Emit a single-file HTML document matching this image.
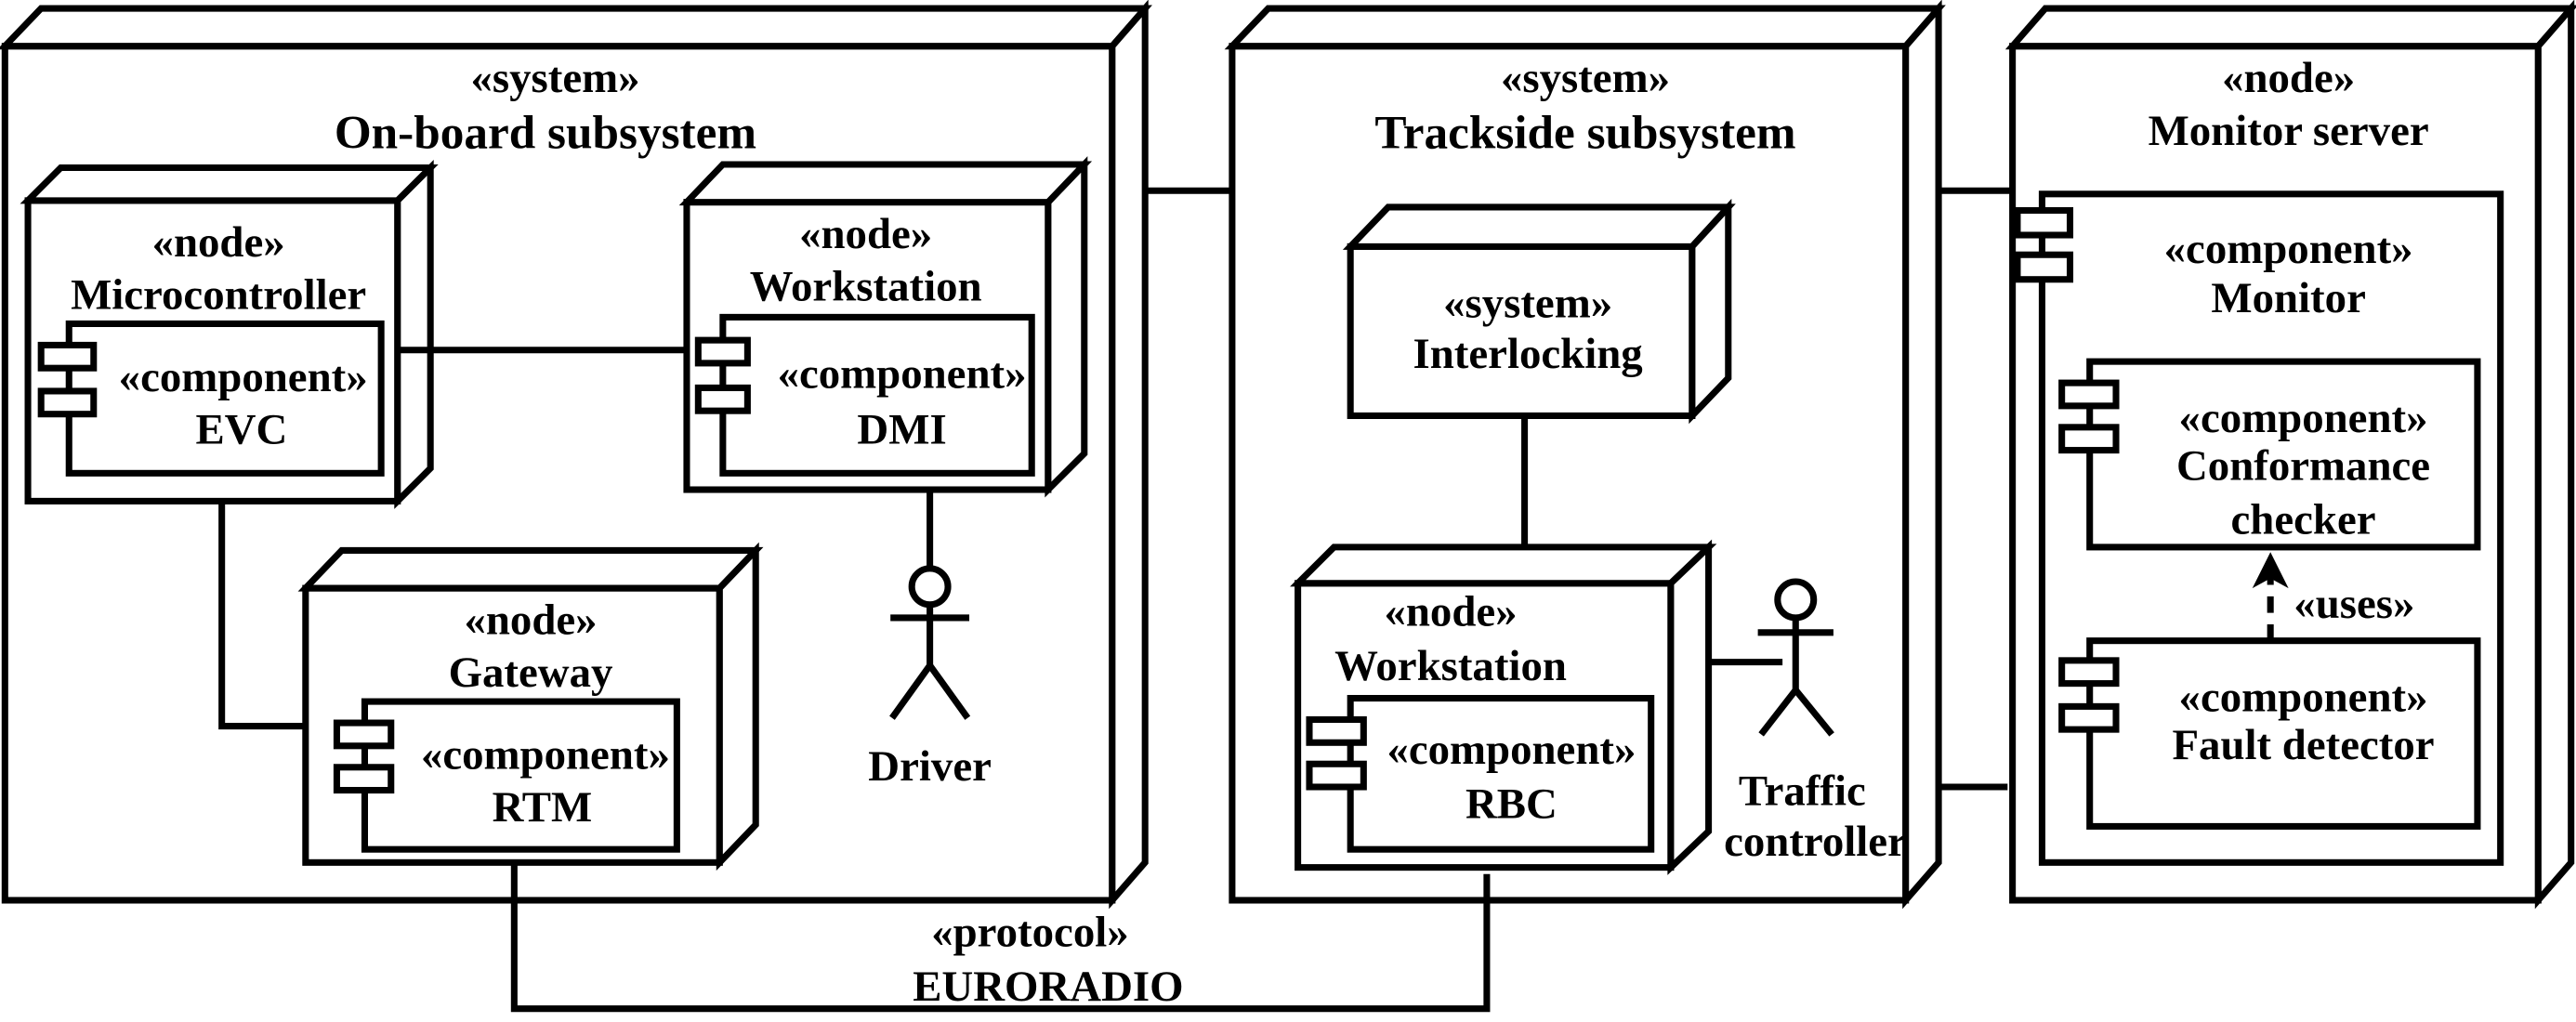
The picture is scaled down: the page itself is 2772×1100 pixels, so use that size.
<!DOCTYPE html>
<html><head><meta charset="utf-8"><style>
html,body{margin:0;padding:0;background:#fff;}
svg{display:block;}
text{font-family:"Liberation Serif",serif;font-weight:bold;fill:#000;text-anchor:middle;}
.s{font-size:26.5px;}
.t{font-size:29px;}
</style></head><body>
<svg width="2772" height="1100" viewBox="0 0 1568 622" xmlns="http://www.w3.org/2000/svg">
<g fill="#fff" stroke="#000" stroke-width="4" stroke-linejoin="miter">
<rect x="3" y="28" width="674" height="520"/>
<polygon points="3,28 25,5 697,5 677,28"/>
<polygon points="677,28 697,5 697,525 677,548"/>
<rect x="17" y="122" width="225" height="183"/>
<polygon points="17,122 37,102 262,102 242,122"/>
<polygon points="242,122 262,102 262,285 242,305"/>
<rect x="42" y="197" width="190" height="91"/>
<rect x="25" y="210" width="32" height="14"/><rect x="25" y="238" width="32" height="14"/>
<rect x="418" y="123" width="220" height="175"/>
<polygon points="418,123 440,100 660,100 638,123"/>
<polygon points="638,123 660,100 660,276 638,298"/>
<rect x="440" y="193" width="188" height="95"/>
<rect x="425" y="207" width="30" height="14"/><rect x="425" y="236" width="30" height="14"/>
<rect x="186" y="358" width="252" height="167"/>
<polygon points="186,358 208,335 460,335 438,358"/>
<polygon points="438,358 460,335 460,502 438,525"/>
<rect x="222" y="427" width="190" height="90"/>
<rect x="205" y="440" width="33" height="14"/><rect x="205" y="467" width="33" height="14"/>
<rect x="750" y="28" width="410" height="520"/>
<polygon points="750,28 772,5 1180,5 1160,28"/>
<polygon points="1160,28 1180,5 1180,525 1160,548"/>
<rect x="822" y="150" width="208" height="103"/>
<polygon points="822,150 845,126 1052,126 1030,150"/>
<polygon points="1030,150 1052,126 1052,230 1030,253"/>
<rect x="790" y="355" width="227" height="173"/>
<polygon points="790,355 812,333 1040,333 1017,355"/>
<polygon points="1017,355 1040,333 1040,506 1017,528"/>
<rect x="822" y="425" width="183" height="92"/>
<rect x="797" y="438" width="33" height="14"/><rect x="797" y="465" width="33" height="14"/>
<rect x="1225" y="28" width="320" height="520"/>
<polygon points="1225,28 1245,5 1565,5 1545,28"/>
<polygon points="1545,28 1565,5 1565,525 1545,548"/>
<rect x="1243" y="118" width="279" height="407"/>
<rect x="1228" y="128" width="32" height="15"/><rect x="1228" y="155" width="32" height="15"/>
<rect x="1272" y="220" width="236" height="113"/>
<rect x="1255" y="233" width="33" height="14"/><rect x="1255" y="260" width="33" height="14"/>
<rect x="1272" y="390" width="236" height="113"/>
<rect x="1255" y="402" width="33" height="14"/><rect x="1255" y="430" width="33" height="14"/>
</g>
<g fill="none" stroke="#000" stroke-width="4">
<line x1="242" y1="213" x2="418" y2="213"/>
<polyline points="135,305 135,442 186,442"/>
<line x1="566" y1="298" x2="566" y2="345"/>
<circle cx="566" cy="357" r="11" fill="#fff"/>
<line x1="566" y1="368" x2="566" y2="405"/>
<line x1="542" y1="376" x2="590" y2="376"/>
<polyline points="543,437 566,405 589,437"/>
<line x1="697" y1="116" x2="750" y2="116"/>
<line x1="928" y1="253" x2="928" y2="333"/>
<line x1="1040" y1="403" x2="1085" y2="403"/>
<circle cx="1093" cy="365" r="11" fill="#fff"/>
<line x1="1093" y1="376" x2="1093" y2="420"/>
<line x1="1070" y1="385" x2="1116" y2="385"/>
<polyline points="1072,447 1093,420 1115,447"/>
<polyline points="313,525 313,614 905,614 905,532"/>
<line x1="1180" y1="116" x2="1225" y2="116"/>
<line x1="1180" y1="479" x2="1222" y2="479"/>
<line x1="1382" y1="390" x2="1382" y2="350" stroke-dasharray="10,7"/>
</g>
<polygon points="1382,336 1371,358 1382,352 1393,358" fill="#000"/>
<text class="s" x="338" y="56">«system»</text>
<text class="t" x="332" y="90">On-board subsystem</text>
<text class="s" x="133" y="156">«node»</text>
<text class="s" x="133" y="188">Microcontroller</text>
<text class="s" x="148" y="238">«component»</text>
<text class="s" x="147" y="270">EVC</text>
<text class="s" x="527" y="151">«node»</text>
<text class="s" x="527" y="183">Workstation</text>
<text class="s" x="549" y="236">«component»</text>
<text class="s" x="549" y="270">DMI</text>
<text class="s" x="323" y="386">«node»</text>
<text class="s" x="323" y="418">Gateway</text>
<text class="s" x="332" y="468">«component»</text>
<text class="s" x="330" y="500">RTM</text>
<text class="s" x="566" y="475">Driver</text>
<text class="s" x="965" y="56">«system»</text>
<text class="t" x="965" y="90">Trackside subsystem</text>
<text class="s" x="930" y="193">«system»</text>
<text class="s" x="930" y="224">Interlocking</text>
<text class="s" x="883" y="381">«node»</text>
<text class="s" x="883" y="414">Workstation</text>
<text class="s" x="920" y="465">«component»</text>
<text class="s" x="920" y="498">RBC</text>
<text class="s" x="1097" y="490">Traffic</text>
<text class="s" x="1105" y="521">controller</text>
<text class="s" x="627" y="576">«protocol»</text>
<text class="s" x="638" y="609">EURORADIO</text>
<text class="s" x="1393" y="56">«node»</text>
<text class="s" x="1393" y="88">Monitor server</text>
<text class="s" x="1393" y="160">«component»</text>
<text class="s" x="1393" y="190">Monitor</text>
<text class="s" x="1402" y="263">«component»</text>
<text class="s" x="1402" y="292">Conformance</text>
<text class="s" x="1402" y="325">checker</text>
<text class="s" x="1433" y="376">«uses»</text>
<text class="s" x="1402" y="433">«component»</text>
<text class="s" x="1402" y="462">Fault detector</text>
</svg>
</body></html>
